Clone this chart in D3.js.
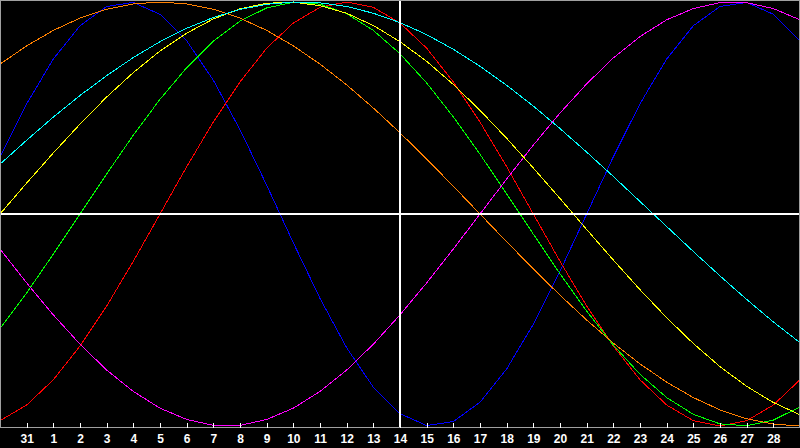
<!DOCTYPE html>
<html>
<head>
<meta charset="utf-8">
<script src="https://cdn.jsdelivr.net/npm/d3@7"></script>
<style>
  html, body { margin: 0; padding: 0; background: #000; }
  svg { display: block; }
</style>
</head>
<body>
<svg id="chart"></svg>
<script>
// day of month for each column, from the 30th of last month to the 29th
const days = [30, 31, 1, 2, 3, 4, 5, 6, 7, 8, 9, 10, 11, 12, 13, 14, 15, 16, 17, 18, 19, 20, 21, 22, 23, 24, 25, 26, 27, 28, 29];
const tickLabels = ["31", "1", "2", "3", "4", "5", "6", "7", "8", "9", "10", "11", "12", "13", "14",
  "15", "16", "17", "18", "19", "20", "21", "22", "23", "24", "25", "26", "27", "28"];
const todayIndex = 15;

// cycle values, one per day (-1 .. 1)
const physical23 = [0.270, 0.520, 0.731, 0.888, 0.979, 0.998, 0.942, 0.817, 0.631, 0.398, 0.136, -0.136, -0.398, -0.631, -0.817, -0.942,
  -0.998, -0.979, -0.888, -0.731, -0.520, -0.270, 0, 0.270, 0.520, 0.731, 0.888, 0.979, 0.998, 0.942, 0.817];
const emotional28 = [-0.975, -0.901, -0.782, -0.623, -0.434, -0.223, 0, 0.223, 0.434, 0.623, 0.782, 0.901, 0.975, 1, 0.975, 0.901,
  0.782, 0.623, 0.434, 0.223, 0, -0.223, -0.434, -0.623, -0.782, -0.901, -0.975, -1, -0.975, -0.901, -0.782];
const intellectual33 = [-0.541, -0.372, -0.189, 0, 0.189, 0.372, 0.541, 0.690, 0.815, 0.910, 0.972, 0.999, 0.990, 0.945, 0.866, 0.756,
  0.618, 0.458, 0.282, 0.095, -0.095, -0.282, -0.458, -0.618, -0.756, -0.866, -0.945, -0.990, -0.999, -0.972, -0.910];
const intuitive38 = [-0.165, -0.325, -0.476, -0.614, -0.736, -0.837, -0.916, -0.969, -0.997, -0.997, -0.969, -0.916, -0.837, -0.736, -0.614, -0.476,
  -0.325, -0.165, 0, 0.165, 0.325, 0.476, 0.614, 0.736, 0.837, 0.916, 0.969, 0.997, 0.997, 0.969, 0.916];
const aesthetic43 = [0, 0.146, 0.288, 0.424, 0.552, 0.667, 0.769, 0.853, 0.920, 0.968, 0.994, 0.999, 0.983, 0.947, 0.889, 0.813,
  0.720, 0.611, 0.489, 0.357, 0.217, 0.073, -0.073, -0.217, -0.357, -0.489, -0.611, -0.720, -0.813, -0.889, -0.947];
const awareness48 = [0.707, 0.793, 0.866, 0.924, 0.966, 0.991, 1, 0.991, 0.966, 0.924, 0.866, 0.793, 0.707, 0.609, 0.5, 0.383,
  0.259, 0.131, 0, -0.131, -0.259, -0.383, -0.5, -0.609, -0.707, -0.793, -0.866, -0.924, -0.966, -0.991, -1];
const spiritual53 = [0.235, 0.348, 0.457, 0.559, 0.653, 0.738, 0.813, 0.876, 0.927, 0.965, 0.989, 1.000, 0.996, 0.979, 0.947, 0.903,
  0.846, 0.777, 0.697, 0.607, 0.509, 0.403, 0.292, 0.177, 0.059, -0.059, -0.177, -0.292, -0.403, -0.509, -0.607];

const series = [
  { name: "physical", values: physical23, color: "#0000ff" },
  { name: "emotional", values: emotional28, color: "#ff0000" },
  { name: "intellectual", values: intellectual33, color: "#00ff00" },
  { name: "intuitive", values: intuitive38, color: "#ff00ff" },
  { name: "aesthetic", values: aesthetic43, color: "#ffff00" },
  { name: "awareness", values: awareness48, color: "#ff8000" },
  { name: "spiritual", values: spiritual53, color: "#00ffff" }
];

const w = 800;
const h = 448;
const axisY = 427.5;

const xScale = d3.scaleLinear()
  .domain([0, days.length - 1])
  .range([0, w]);

const yScale = d3.scaleLinear()
  .domain([-1, 1])
  .range([426, 2]);

const svg = d3.select("#chart")
  .attr("width", w)
  .attr("height", h)
  .style("background", "#000");

svg.append("rect")
  .attr("width", w)
  .attr("height", h)
  .attr("fill", "#000");

// curves
const line = d3.line()
  .x((d, i) => xScale(i))
  .y((d) => yScale(d));

svg.selectAll("path.cycle")
  .data(series)
  .enter()
  .append("path")
  .attr("class", "cycle")
  .attr("d", (d) => line(d.values))
  .attr("fill", "none")
  .attr("stroke", (d) => d.color)
  .attr("stroke-width", 1)
  .attr("shape-rendering", "crispEdges");

// zero line and today marker
svg.append("line")
  .attr("x1", 0).attr("x2", w)
  .attr("y1", yScale(0)).attr("y2", yScale(0))
  .attr("stroke", "#fff")
  .attr("stroke-width", 2)
  .attr("shape-rendering", "crispEdges");

svg.append("line")
  .attr("x1", xScale(todayIndex)).attr("x2", xScale(todayIndex))
  .attr("y1", 0).attr("y2", axisY)
  .attr("stroke", "#fff")
  .attr("stroke-width", 2)
  .attr("shape-rendering", "crispEdges");

// frame
svg.append("rect")
  .attr("x", 0.5).attr("y", 0.5)
  .attr("width", w - 1).attr("height", axisY - 0.5)
  .attr("fill", "none")
  .attr("stroke", "#a0a0a0")
  .attr("stroke-width", 1)
  .attr("shape-rendering", "crispEdges");

// bottom axis
const xAxis = d3.axisBottom(xScale)
  .tickValues(d3.range(1, days.length - 1))
  .tickFormat((d) => tickLabels[d - 1])
  .tickSize(-5)
  .tickPadding(7);

const gAxis = svg.append("g")
  .attr("transform", "translate(0," + axisY + ")")
  .call(xAxis);

gAxis.select(".domain").remove();
gAxis.selectAll(".tick line")
  .attr("stroke", "#fff")
  .attr("shape-rendering", "crispEdges");
gAxis.selectAll(".tick text")
  .attr("fill", "#fff")
  .attr("font-family", "'Liberation Sans', Arial, sans-serif")
  .attr("font-weight", "bold")
  .attr("font-size", 12);
</script>
</body>
</html>
